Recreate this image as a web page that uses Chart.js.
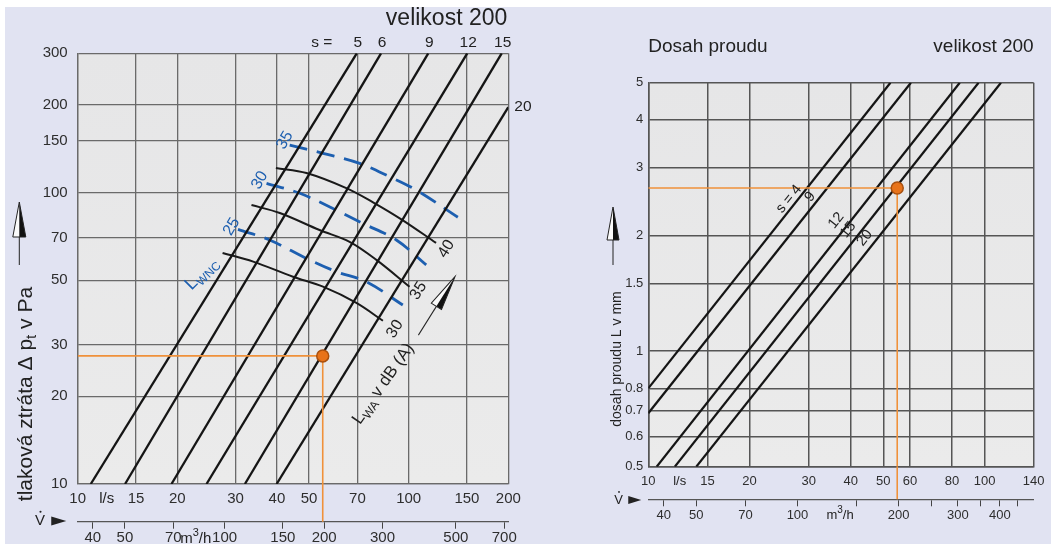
<!DOCTYPE html>
<html>
<head>
<meta charset="utf-8">
<script src="https://cdn.jsdelivr.net/npm/chart.js@4.4.1/dist/chart.umd.min.js"></script>
<style>
  html, body { margin: 0; padding: 0; background: #fff; overflow: hidden; }
  #page { position: absolute; left: 5px; top: 7px; width: 1046px; height: 537px; background: #e1e3f2; }
  canvas { position: absolute; top: 0; }
  #leftChart { left: 0; }
  #rightChart { left: 560px; }
</style>
</head>
<body>
<div id="page"></div>
<canvas id="leftChart" width="560" height="544"></canvas>
<canvas id="rightChart" width="491" height="544"></canvas>
<script>
const FONT = "'Liberation Sans', Arial, sans-serif";

// ---- tlaková ztráta (levý graf) ----
const flowTicks = [10, 15, 20, 30, 40, 50, 70, 100, 150, 200];
const paTicks = [10, 20, 30, 50, 70, 100, 150, 200, 300];
const m3hTicksLeft = [40, 50, 70, 100, 150, 200, 300, 500, 700];

const sLabels = ['5', '6', '9', '12', '15', '20'];
const sFlowLow = [10.95, 13.9, 19.2, 24.5, 32.0, 39.9];
const sPaLow = [10, 10, 10, 10, 10, 10];
const sFlowTop = [69.7, 82.5, 114.6, 150.3, 191, 200];
const sPaTop = [300, 300, 300, 300, 300, 196];

// hladina akustického výkonu LWA (černé)
const lwa30Flow = [27.4, 33.9, 44.7, 55.1, 69.5, 83.6];
const lwa30Pa = [62.0, 57.9, 51.4, 47.5, 41.8, 36.3];
const lwa35Flow = [33.5, 40.8, 53.8, 66.3, 79.9, 100.6];
const lwa35Pa = [90.5, 85.0, 74.3, 67.7, 58.7, 47.5];
const lwa40Flow = [39.7, 49.1, 64.8, 77.8, 95.8, 121];
const lwa40Pa = [121.3, 116.6, 103.5, 92.7, 80.4, 67.1];

// LWNC (modré čárkované)
const lwnc25Flow = [30.5, 38.0, 49.1, 60.4, 74.5, 96.0];
const lwnc25Pa = [74.7, 68.7, 59.4, 53.5, 49.4, 41.1];
const lwnc30Flow = [37.2, 46.9, 60.4, 72.7, 91.8, 113];
const lwnc30Pa = [107.4, 99.3, 87.0, 78.3, 68.7, 56.4];
const lwnc35Flow = [43.7, 55.1, 71.1, 87.6, 105.4, 140.8];
const lwnc35Pa = [145.4, 136.2, 125.8, 113.2, 101.9, 82.2];

const lwaNames = ['30', '35', '40'];
const lwaLabelFlow = [90.9, 107, 130];
const lwaLabelPa = [34.0, 46.0, 64.0];
const lwncNames = ['25', '30', '35'];
const lwncLabelFlow = [29.2, 35.5, 42.3];
const lwncLabelPa = [76.3, 110, 151];

// pracovní bod
const opFlow = 55;
const opPa = 27.5;
const opReach = 2.66;

// ---- dosah proudu (pravý graf) ----
const reachFlowTicks = [10, 15, 20, 30, 40, 50, 60, 80, 100, 140];
const reachTicks = [0.5, 0.6, 0.7, 0.8, 1, 1.5, 2, 3, 4, 5];
const m3hTicksRight = [40, 50, 70, 100, 150, 200, 250, 300, 350, 400, 450];
const m3hLabelsRight = [40, 50, 70, 100, 200, 300, 400];

const jetLabels = ['s = 4', '9', '12', '15', '20'];
const jetFlowStart = [10, 10, 10.59, 11.99, 13.89];
const jetReachStart = [0.8, 0.689, 0.5, 0.5, 0.5];
const jetFlowEnd = [52.5, 60.4, 84.4, 96.0, 111.9];
const jetReachEnd = [5, 5, 5, 5, 5];
const jetLabelFlow = [26.2, 30.3, 36.2, 39.3, 44.0];
const jetLabelReach = [2.49, 2.52, 2.19, 2.07, 1.97];

const GRID = '#6a6a6a';
const TICK = '#2e2e2e';
const BLUE = '#1d5fb0';
const ORANGE = '#f0913a';

const pts = (xs, ys) => xs.map((v, i) => ({ x: v, y: ys[i] }));

function lineDs(data, color, width, extra) {
    return Object.assign({
        data: data, showLine: true, borderColor: color, borderWidth: width,
        pointRadius: 0, fill: false
    }, extra || {});
}

function fixedTicks(values) {
    return scale => { scale.ticks = values.map(v => ({ value: v })); };
}

function txt(ctx, s, x, y, size, opts) {
    opts = opts || {};
    ctx.save();
    ctx.translate(x, y);
    if (opts.rot) ctx.rotate(opts.rot * Math.PI / 180);
    ctx.font = size + 'px ' + FONT;
    ctx.fillStyle = opts.color || '#222';
    ctx.textAlign = opts.align || 'center';
    ctx.textBaseline = 'middle';
    ctx.fillText(s, 0, 0);
    ctx.restore();
}

// text with sub/superscripts: parts = [text, size, dy]
function richTxt(ctx, parts, x, y, rot, color) {
    ctx.save();
    ctx.translate(x, y);
    ctx.rotate(rot * Math.PI / 180);
    ctx.fillStyle = color || '#222';
    ctx.textAlign = 'left';
    ctx.textBaseline = 'alphabetic';
    let w = 0;
    parts.forEach(p => { ctx.font = p[1] + 'px ' + FONT; w += ctx.measureText(p[0]).width; });
    let cx = -w / 2;
    const base = parts[0][1] * 0.36;
    parts.forEach(p => {
        ctx.font = p[1] + 'px ' + FONT;
        ctx.fillText(p[0], cx, base + (p[2] || 0));
        cx += ctx.measureText(p[0]).width;
    });
    ctx.restore();
}

function arrow(ctx, x1, y1, x2, y2, head, half) {
    const ang = Math.atan2(y2 - y1, x2 - x1);
    const len = Math.hypot(x2 - x1, y2 - y1);
    ctx.save();
    ctx.translate(x1, y1);
    ctx.rotate(ang);
    ctx.strokeStyle = '#222';
    ctx.lineWidth = 1;
    ctx.beginPath(); ctx.moveTo(0, 0); ctx.lineTo(len - head, 0); ctx.stroke();
    ctx.beginPath(); ctx.moveTo(len, 0); ctx.lineTo(len - head, -half); ctx.lineTo(len - head, 0); ctx.closePath();
    ctx.fillStyle = '#fafafa'; ctx.fill();
    ctx.beginPath(); ctx.moveTo(len, 0); ctx.lineTo(len - head, half); ctx.lineTo(len - head, 0); ctx.closePath();
    ctx.fillStyle = '#111'; ctx.fill();
    ctx.beginPath(); ctx.moveTo(len, 0); ctx.lineTo(len - head, -half); ctx.lineTo(len - head, half); ctx.closePath();
    ctx.stroke();
    ctx.restore();
}

function flowSymbol(ctx, x, y, size) {
    txt(ctx, 'V', x, y, size);
    ctx.save();
    ctx.fillStyle = '#222';
    ctx.beginPath(); ctx.arc(x + 0.5, y - size * 0.62, size * 0.07, 0, Math.PI * 2); ctx.fill();
    ctx.beginPath();
    ctx.moveTo(x + size * 0.75, y - size * 0.3);
    ctx.lineTo(x + size * 1.75, y);
    ctx.lineTo(x + size * 0.75, y + size * 0.3);
    ctx.closePath(); ctx.fill();
    ctx.restore();
}

function plotFill(chart) {
    const { ctx, chartArea: a } = chart;
    ctx.save();
    const g = ctx.createLinearGradient(0, a.top, 0, a.bottom);
    g.addColorStop(0, '#e6e6e7');
    g.addColorStop(1, '#ebebeb');
    ctx.fillStyle = g;
    ctx.fillRect(a.left, a.top, a.right - a.left, a.bottom - a.top);
    ctx.restore();
}

function dropLine(chart) {
    const { ctx, chartArea: a, scales } = chart;
    const px = scales.x.getPixelForValue(opFlow);
    ctx.save();
    ctx.strokeStyle = ORANGE;
    ctx.lineWidth = 1.6;
    ctx.beginPath(); ctx.moveTo(px, a.bottom); ctx.lineTo(px, scales.x2.top); ctx.stroke();
    ctx.restore();
}

function axisTicks(values, size, labelFn, opts) {
    return Object.assign({
        autoSkip: false, maxRotation: 0, color: TICK,
        font: { family: FONT, size: size },
        callback: labelFn || (v => String(v))
    }, opts || {});
}

const leftDecor = {
    id: 'leftDecor',
    beforeDraw: plotFill,
    afterDraw(chart) {
        const { ctx, chartArea: a, scales } = chart;
        const x = scales.x, y = scales.y;
        dropLine(chart);

        txt(ctx, 'velikost 200', a.right - 1, 19, 23, { align: 'right' });
        txt(ctx, 's =', a.left + 244, a.top - 11, 15.5);
        for (let i = 0; i < 5; i++) {
            txt(ctx, sLabels[i], x.getPixelForValue(sFlowTop[i]) + 1, a.top - 11, 15.5);
        }
        txt(ctx, sLabels[5], a.right + 6, y.getPixelForValue(sPaTop[5]), 15.5, { align: 'left' });

        lwaNames.forEach((n, i) => txt(ctx, n, x.getPixelForValue(lwaLabelFlow[i]),
            y.getPixelForValue(lwaLabelPa[i]), 16, { rot: -58 }));
        lwncNames.forEach((n, i) => txt(ctx, n, x.getPixelForValue(lwncLabelFlow[i]),
            y.getPixelForValue(lwncLabelPa[i]), 16, { rot: -60, color: BLUE }));

        richTxt(ctx, [['L', 18], ['WNC', 12, 4]], x.getPixelForValue(23.5), y.getPixelForValue(53.1), -45, BLUE);
        richTxt(ctx, [['L', 17], ['WA', 12, 4], [' v dB (A)', 17]], x.getPixelForValue(83.1), y.getPixelForValue(22.2), -55, '#222');
        arrow(ctx, x.getPixelForValue(107), y.getPixelForValue(32.4),
            x.getPixelForValue(138), y.getPixelForValue(51.4), 35, 6);

        richTxt(ctx, [['tlaková ztráta Δ p', 21], ['t', 15, 4], [' v Pa', 21]], 24, 394, -90, '#222');
        arrow(ctx, 19.3, 265, 19.3, 202, 35, 6.5);

        flowSymbol(ctx, 40, 521, 15);
        txt(ctx, 'l/s', a.left + 29, a.bottom + 15, 15);
        richTxt(ctx, [['m', 15], ['3', 11, -7], ['/h', 15]], a.left + 118, scales.x2.top + 16, 0, '#222');
    }
};

const rightDecor = {
    id: 'rightDecor',
    beforeDraw: plotFill,
    afterDraw(chart) {
        const { ctx, chartArea: a, scales } = chart;
        const x = scales.x, y = scales.y;
        dropLine(chart);

        txt(ctx, 'Dosah proudu', a.left, 47, 19, { align: 'left' });
        txt(ctx, 'velikost 200', a.right, 47, 19, { align: 'right' });

        jetLabels.forEach((n, i) => txt(ctx, n, x.getPixelForValue(jetLabelFlow[i]),
            y.getPixelForValue(jetLabelReach[i]), 14.5, { rot: -51 }));

        richTxt(ctx, [['dosah proudu L v mm', 14]], 56, 359, -90, '#222');
        arrow(ctx, 53, 265, 53, 207, 33, 6);

        flowSymbol(ctx, 58.5, 500, 13);
        txt(ctx, 'l/s', a.left + 31.4, a.bottom + 14.3, 13);
        richTxt(ctx, [['m', 13], ['3', 10, -6], ['/h', 13]], a.left + 191.7, scales.x2.top + 15, 0, '#222');
    }
};

const leftDatasets = [
    { data: [{ x: opFlow, y: opPa }], showLine: false, pointRadius: 6,
      pointBackgroundColor: '#e8731a', pointBorderColor: '#a8500f', pointBorderWidth: 1.5 },
    lineDs([{ x: flowTicks[0], y: opPa }, { x: opFlow, y: opPa }, { x: opFlow, y: paTicks[0] }], ORANGE, 1.6),
    ...sLabels.map((s, i) => lineDs([{ x: sFlowLow[i], y: sPaLow[i] }, { x: sFlowTop[i], y: sPaTop[i] }], '#151515', 2.3)),
    lineDs(pts(lwa30Flow, lwa30Pa), '#1a1a1a', 2, { tension: 0.35 }),
    lineDs(pts(lwa35Flow, lwa35Pa), '#1a1a1a', 2, { tension: 0.35 }),
    lineDs(pts(lwa40Flow, lwa40Pa), '#1a1a1a', 2, { tension: 0.35 }),
    lineDs(pts(lwnc25Flow, lwnc25Pa), BLUE, 2.8, { tension: 0.35, borderDash: [18, 10] }),
    lineDs(pts(lwnc30Flow, lwnc30Pa), BLUE, 2.8, { tension: 0.35, borderDash: [18, 10] }),
    lineDs(pts(lwnc35Flow, lwnc35Pa), BLUE, 2.8, { tension: 0.35, borderDash: [18, 10] })
];

const rightDatasets = [
    { data: [{ x: opFlow, y: opReach }], showLine: false, pointRadius: 6,
      pointBackgroundColor: '#e8731a', pointBorderColor: '#a8500f', pointBorderWidth: 1.5 },
    lineDs([{ x: reachFlowTicks[0], y: opReach }, { x: opFlow, y: opReach }, { x: opFlow, y: reachTicks[0] }], ORANGE, 1.6),
    ...jetLabels.map((s, i) => lineDs([{ x: jetFlowStart[i], y: jetReachStart[i] }, { x: jetFlowEnd[i], y: jetReachEnd[i] }], '#151515', 2.2))
];

new Chart(document.getElementById('leftChart'), {
    type: 'scatter',
    data: { datasets: leftDatasets },
    options: {
        responsive: false, animation: false, events: [],
        layout: { padding: { top: 53.3, right: 51.7, bottom: 0, left: 0 } },
        plugins: { legend: { display: false }, tooltip: { enabled: false } },
        scales: {
            x: {
                type: 'logarithmic', min: 10, max: 200,
                afterBuildTicks: fixedTicks(flowTicks),
                afterFit: s => { s.height = 37.7; },
                grid: { color: GRID, lineWidth: 1.3, drawTicks: false },
                border: { color: GRID, width: 1.3 },
                ticks: axisTicks(flowTicks, 15, null, { padding: 6 })
            },
            x2: {
                type: 'logarithmic', position: 'bottom', weight: 1, min: 36, max: 720,
                afterBuildTicks: fixedTicks(m3hTicksLeft),
                afterFit: s => { s.height = 22.3; },
                grid: { drawOnChartArea: false, color: '#444', lineWidth: 1, tickLength: 7 },
                border: { color: '#555', width: 1.3 },
                ticks: axisTicks(m3hTicksLeft, 15, null, { padding: 0 })
            },
            y: {
                type: 'logarithmic', min: 10, max: 300,
                afterBuildTicks: fixedTicks(paTicks),
                afterFit: s => { s.width = 77.7; },
                grid: { color: GRID, lineWidth: 1.3, drawTicks: false },
                border: { color: GRID, width: 1.3 },
                ticks: axisTicks(paTicks, 15, null, { padding: 10 })
            }
        }
    },
    plugins: [leftDecor]
});

new Chart(document.getElementById('rightChart'), {
    type: 'scatter',
    data: { datasets: rightDatasets },
    options: {
        responsive: false, animation: false, events: [],
        layout: { padding: { top: 82.7, right: 13.7, bottom: 0, left: 0 } },
        plugins: { legend: { display: false }, tooltip: { enabled: false } },
        scales: {
            x: {
                type: 'logarithmic', min: 10, max: 140,
                afterBuildTicks: fixedTicks(reachFlowTicks),
                afterFit: s => { s.height = 32.6; },
                grid: { color: '#555', lineWidth: 1.5, drawTicks: false },
                border: { color: '#555', width: 1.5 },
                ticks: axisTicks(reachFlowTicks, 13, null, { padding: 6.5 })
            },
            x2: {
                type: 'logarithmic', position: 'bottom', weight: 1, min: 36, max: 504,
                afterBuildTicks: fixedTicks(m3hTicksRight),
                afterFit: s => { s.height = 44.7; },
                grid: { drawOnChartArea: false, color: '#444', lineWidth: 1, tickLength: 7 },
                border: { color: '#555', width: 1.3 },
                ticks: axisTicks(m3hTicksRight, 13, v => (m3hLabelsRight.includes(v) ? String(v) : ''), { padding: 1 })
            },
            y: {
                type: 'logarithmic', min: 0.5, max: 5,
                afterBuildTicks: fixedTicks(reachTicks),
                afterFit: s => { s.width = 88.3; },
                grid: { color: '#555', lineWidth: 1.5, drawTicks: false },
                border: { color: '#555', width: 1.5 },
                ticks: axisTicks(reachTicks, 13, null, { padding: 5 })
            }
        }
    },
    plugins: [rightDecor]
});
</script>
</body>
</html>
